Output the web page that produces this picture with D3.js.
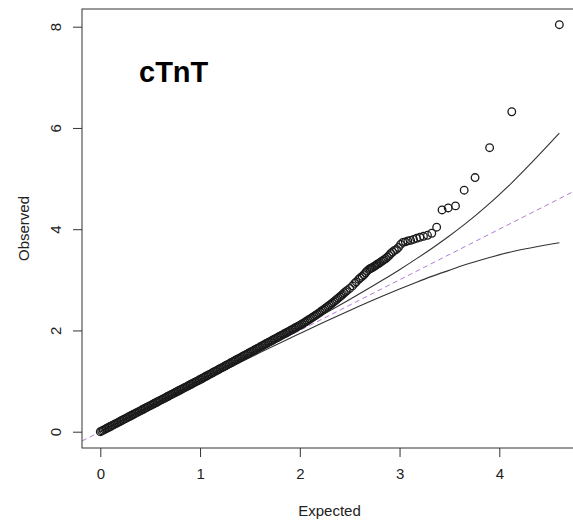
<!DOCTYPE html>
<html>
<head>
<meta charset="utf-8">
<script src="https://cdn.jsdelivr.net/npm/d3@7"></script>
<style>
  html, body { margin: 0; padding: 0; background: #fff; }
  svg { display: block; font-family: "Liberation Sans", Arial, Helvetica, sans-serif; }
</style>
</head>
<body>
<svg id="chart" width="573" height="527"></svg>
<script>
// Q-Q plot of -log10(p) for cTnT: expected vs observed

// Observed points (expected, observed), ordered from the bulk to the top hit
const expected = [
  0.000, 0.015, 0.030, 0.045, 0.060, 0.075, 0.090, 0.105, 0.120, 0.135,
  0.150, 0.165, 0.180, 0.195, 0.210, 0.225, 0.240, 0.255, 0.270, 0.285,
  0.300, 0.315, 0.330, 0.345, 0.360, 0.375, 0.390, 0.405, 0.420, 0.435,
  0.450, 0.465, 0.480, 0.495, 0.510, 0.525, 0.540, 0.555, 0.570, 0.585,
  0.600, 0.615, 0.630, 0.645, 0.660, 0.675, 0.690, 0.705, 0.720, 0.735,
  0.750, 0.765, 0.780, 0.795, 0.810, 0.825, 0.840, 0.855, 0.870, 0.885,
  0.900, 0.915, 0.930, 0.945, 0.960, 0.975, 0.990, 1.005, 1.020, 1.035,
  1.050, 1.065, 1.080, 1.095, 1.110, 1.125, 1.140, 1.155, 1.170, 1.185,
  1.200, 1.215, 1.230, 1.245, 1.260, 1.275, 1.290, 1.305, 1.320, 1.335,
  1.350, 1.365, 1.380, 1.395, 1.410, 1.425, 1.440, 1.455, 1.470, 1.485,
  1.500, 1.515, 1.530, 1.545, 1.560, 1.575, 1.590, 1.605, 1.620, 1.635,
  1.650, 1.665, 1.680, 1.695, 1.710, 1.725, 1.740, 1.755, 1.770, 1.785,
  1.800, 1.815, 1.830, 1.845, 1.860, 1.875, 1.890, 1.905, 1.920, 1.935,
  1.950, 1.965, 1.980, 1.995, 2.010, 2.025, 2.040, 2.055, 2.070, 2.085,
  2.100, 2.115, 2.130, 2.145, 2.160, 2.175, 2.190, 2.205, 2.220, 2.235,
  2.250, 2.265, 2.280, 2.295, 2.310, 2.325, 2.340, 2.355, 2.370, 2.385,
  2.400, 2.415, 2.430, 2.445, 2.460, 2.475, 2.500, 2.528, 2.550, 2.566,
  2.590, 2.607, 2.625, 2.643, 2.660, 2.673, 2.690, 2.704, 2.716, 2.727,
  2.740, 2.751, 2.764, 2.776, 2.790, 2.803, 2.817, 2.831, 2.846, 2.862,
  2.878, 2.895, 2.912, 2.930, 2.949, 2.969, 2.989, 3.011, 3.033, 3.058,
  3.083, 3.111, 3.140, 3.171, 3.204, 3.240, 3.280, 3.323, 3.372, 3.426,
  3.488, 3.561, 3.648, 3.757, 3.903, 4.125, 4.602
];
const observed = [
  0.000, 0.015, 0.031, 0.046, 0.062, 0.077, 0.093, 0.108, 0.124, 0.139,
  0.155, 0.170, 0.185, 0.201, 0.216, 0.232, 0.247, 0.263, 0.278, 0.294,
  0.309, 0.324, 0.340, 0.355, 0.371, 0.386, 0.402, 0.417, 0.433, 0.448,
  0.464, 0.479, 0.494, 0.510, 0.525, 0.541, 0.556, 0.572, 0.587, 0.603,
  0.618, 0.633, 0.649, 0.664, 0.680, 0.695, 0.711, 0.726, 0.742, 0.757,
  0.773, 0.788, 0.803, 0.819, 0.834, 0.850, 0.865, 0.881, 0.896, 0.912,
  0.927, 0.942, 0.958, 0.973, 0.989, 1.004, 1.020, 1.035, 1.051, 1.067,
  1.084, 1.100, 1.116, 1.132, 1.148, 1.164, 1.180, 1.196, 1.212, 1.228,
  1.244, 1.260, 1.276, 1.292, 1.308, 1.324, 1.340, 1.356, 1.372, 1.388,
  1.405, 1.421, 1.437, 1.453, 1.469, 1.485, 1.501, 1.517, 1.533, 1.549,
  1.565, 1.581, 1.597, 1.613, 1.629, 1.645, 1.661, 1.677, 1.693, 1.709,
  1.726, 1.742, 1.758, 1.774, 1.790, 1.806, 1.822, 1.838, 1.854, 1.870,
  1.886, 1.902, 1.918, 1.934, 1.950, 1.966, 1.982, 1.998, 2.014, 2.030,
  2.047, 2.063, 2.079, 2.095, 2.112, 2.130, 2.148, 2.166, 2.186, 2.205,
  2.224, 2.243, 2.262, 2.281, 2.301, 2.322, 2.342, 2.363, 2.385, 2.406,
  2.428, 2.450, 2.472, 2.495, 2.517, 2.540, 2.564, 2.588, 2.612, 2.637,
  2.662, 2.688, 2.714, 2.741, 2.765, 2.790, 2.830, 2.880, 2.930, 2.960,
  3.010, 3.040, 3.070, 3.100, 3.140, 3.170, 3.200, 3.220, 3.230, 3.240,
  3.260, 3.270, 3.290, 3.310, 3.320, 3.340, 3.360, 3.380, 3.400, 3.420,
  3.450, 3.480, 3.520, 3.550, 3.580, 3.600, 3.640, 3.700, 3.740, 3.750,
  3.770, 3.780, 3.800, 3.820, 3.840, 3.860, 3.880, 3.920, 4.040, 4.380,
  4.420, 4.460, 4.770, 5.020, 5.610, 6.320, 8.040
];

// 95% confidence band around the null expectation
const ciExpected = [0, 0.5, 1, 1.602, 2, 2.224, 2.5, 2.831, 3, 3.171, 3.323, 3.488, 3.648, 3.757, 3.903, 4.125, 4.602];
const ciUpper    = [0, 0.511, 1.019, 1.641, 2.06, 2.304, 2.611, 2.995, 3.20, 3.418, 3.620, 3.852, 4.091, 4.263, 4.509, 4.917, 5.897];
const ciLower    = [0, 0.489, 0.981, 1.564, 1.94, 2.148, 2.396, 2.681, 2.82, 2.954, 3.068, 3.182, 3.291, 3.358, 3.442, 3.555, 3.734];

// Axis ticks and labels
const xTicks = [0, 1, 2, 3, 4];
const yTicks = [0, 2, 4, 6, 8];
const xTitle = "Expected";
const yTitle = "Observed";
const panelTitle = "cTnT";

const svg = d3.select("#chart");

// Plot region (right edge runs past the window)
const plot = { left: 82, top: 9, right: 577, bottom: 448 };

const x = d3.scaleLinear().domain([0, 4]).range([100.3, 499.3]);
const y = d3.scaleLinear().domain([0, 8]).range([431.7, 26.7]);

svg.append("rect").attr("width", 573).attr("height", 527).attr("fill", "#fff");

svg.append("defs").append("clipPath").attr("id", "plotClip")
  .append("rect")
  .attr("x", plot.left).attr("y", plot.top)
  .attr("width", plot.right - plot.left).attr("height", plot.bottom - plot.top);

const inner = svg.append("g").attr("clip-path", "url(#plotClip)");

// Diagonal y = x reference line
const xMin = x.invert(plot.left), xMax = x.invert(plot.right);
inner.append("line")
  .attr("x1", x(xMin)).attr("y1", y(xMin))
  .attr("x2", x(xMax)).attr("y2", y(xMax))
  .attr("stroke", "#b47ad6")
  .attr("stroke-width", 1)
  .attr("stroke-dasharray", "5,3.5");

// Confidence band lines
const ciLine = d3.line().curve(d3.curveMonotoneX)
  .x(d => x(d[0])).y(d => y(d[1]));
[ciUpper, ciLower].forEach(vals => {
  inner.append("path")
    .datum(ciExpected.map((e, i) => [e, vals[i]]))
    .attr("d", ciLine)
    .attr("fill", "none")
    .attr("stroke", "#333")
    .attr("stroke-width", 1.1);
});

// Points (open circles)
inner.append("g").selectAll("circle")
  .data(expected.map((e, i) => [e, observed[i]]))
  .join("circle")
  .attr("cx", d => x(d[0]))
  .attr("cy", d => y(d[1]))
  .attr("r", 3.8)
  .attr("fill", "none")
  .attr("stroke", "#1a1a1a")
  .attr("stroke-width", 1.3);

// Axes
const axisColor = "#333";
const gx = svg.append("g")
  .attr("transform", `translate(0,${plot.bottom})`)
  .call(d3.axisBottom(x).tickValues(xTicks).tickSize(9).tickPadding(11).tickFormat(d3.format("d")));
gx.select(".domain").remove();
gx.selectAll("line").attr("stroke", axisColor);
gx.selectAll("text").attr("font-size", 15).attr("fill", "#222")
  .attr("font-family", "Liberation Sans, Arial, sans-serif");

const gy = svg.append("g")
  .attr("transform", `translate(${plot.left},0)`)
  .call(d3.axisLeft(y).tickValues(yTicks).tickSize(9).tickFormat(d3.format("d")));
gy.select(".domain").remove();
gy.selectAll("line").attr("stroke", axisColor);
gy.selectAll("text")
  .attr("x", null).attr("dy", null)
  .attr("transform", "translate(-21,0) rotate(-90)")
  .attr("text-anchor", "middle")
  .attr("font-size", 15).attr("fill", "#222")
  .attr("font-family", "Liberation Sans, Arial, sans-serif");

// Box around the plot region
svg.append("rect")
  .attr("x", plot.left).attr("y", plot.top)
  .attr("width", plot.right - plot.left).attr("height", plot.bottom - plot.top)
  .attr("fill", "none").attr("stroke", axisColor).attr("stroke-width", 1);

// Axis titles
svg.append("text")
  .attr("x", (plot.left + plot.right) / 2).attr("y", 516)
  .attr("text-anchor", "middle")
  .attr("font-size", 15).attr("fill", "#222")
  .text(xTitle);

svg.append("text")
  .attr("transform", `translate(28.5,${(plot.top + plot.bottom) / 2}) rotate(-90)`)
  .attr("text-anchor", "middle")
  .attr("font-size", 15).attr("fill", "#222")
  .text(yTitle);

// Panel label
svg.append("text")
  .attr("x", 139).attr("y", 82)
  .attr("font-size", 29).attr("font-weight", "bold").attr("fill", "#000")
  .text(panelTitle);
</script>
</body>
</html>
